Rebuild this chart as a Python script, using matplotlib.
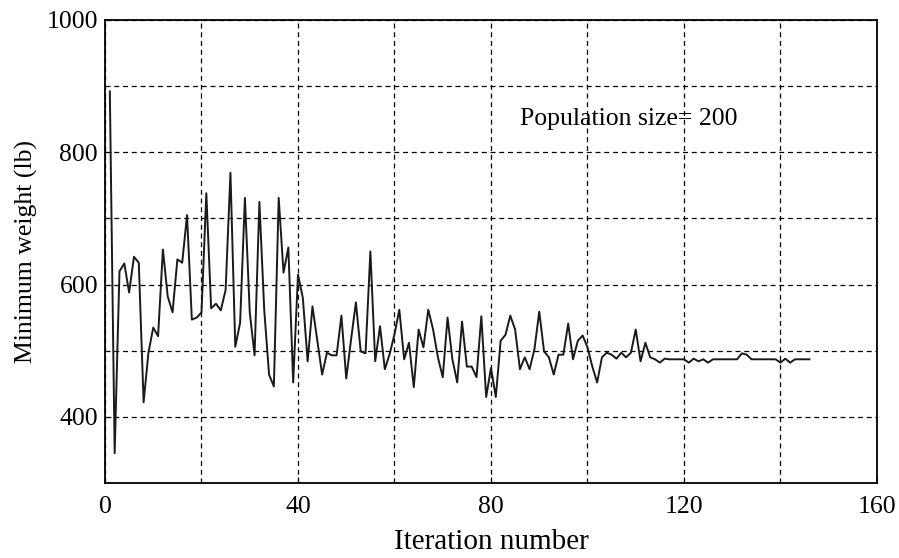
import numpy as np
import matplotlib.pyplot as plt
from matplotlib.ticker import MultipleLocator

# Minimum weight per iteration
iterations = np.arange(1, 147)
min_weight = [
    892, 345, 620, 632, 588, 642, 633, 422, 497, 535,
    522, 653, 582, 558, 638, 633, 705, 547, 550, 558,
    738, 564, 571, 561, 592, 769, 506, 542, 731, 558,
    493, 725, 562, 464, 446, 731, 618, 656, 452, 615,
    580, 484, 567, 515, 464, 497, 493, 493, 553, 458,
    517, 573, 499, 496, 650, 484, 537, 472, 495, 525,
    562, 487, 512, 445, 532, 505, 562, 532, 490, 460,
    550, 487, 452, 544, 476, 476, 460, 552, 430, 474,
    430, 515, 524, 553, 532, 472, 490, 472, 502, 559,
    499, 490, 464, 494, 494, 541, 487, 515, 523, 505,
    476, 452, 490, 497, 494, 488, 497, 490, 497, 532,
    484, 512, 490, 487, 482, 488, 487, 487, 487, 487,
    482, 488, 484, 487, 482, 487, 487, 487, 487, 487,
    487, 496, 494, 487, 487, 487, 487, 487, 487, 482,
    488, 482, 487, 487, 487, 487,
]

x_ticks = [0, 40, 80, 120, 160]
y_ticks = [400, 600, 800, 1000]

plt.rcParams['font.family'] = ['Liberation Serif', 'DejaVu Serif']

fig = plt.figure(figsize=(8.99, 5.58), dpi=100)
ax = fig.add_axes([0.1168, 0.1344, 0.8587, 0.8298])

ax.plot(iterations, min_weight, color='#1a1a1a', linewidth=1.4)

ax.set_xlim(0, 160)
ax.set_ylim(300, 1000)
ax.set_xticks(x_ticks)
ax.set_yticks(y_ticks)
ax.xaxis.set_minor_locator(MultipleLocator(20))
ax.yaxis.set_minor_locator(MultipleLocator(100))
ax.tick_params(which='major', direction='in', length=4, labelsize=18.5)
ax.tick_params(axis='x', pad=9)
ax.tick_params(axis='y', pad=5)
ax.tick_params(which='minor', length=0)
ax.grid(which='both', color='black', linestyle=(0, (4, 3)), linewidth=0.9)

for s in ax.spines.values():
    s.set_linewidth(1.3)
    s.set_color('black')
    s.set_zorder(3)

ax.set_xlabel('Iteration number', fontsize=21, labelpad=8)
ax.set_ylabel('Minimum weight (lb)', fontsize=18.5, labelpad=6)

ax.text(86, 850, 'Population size= 200', fontsize=18.5, va='center', ha='left')

fig.savefig('out.png', dpi=100)
